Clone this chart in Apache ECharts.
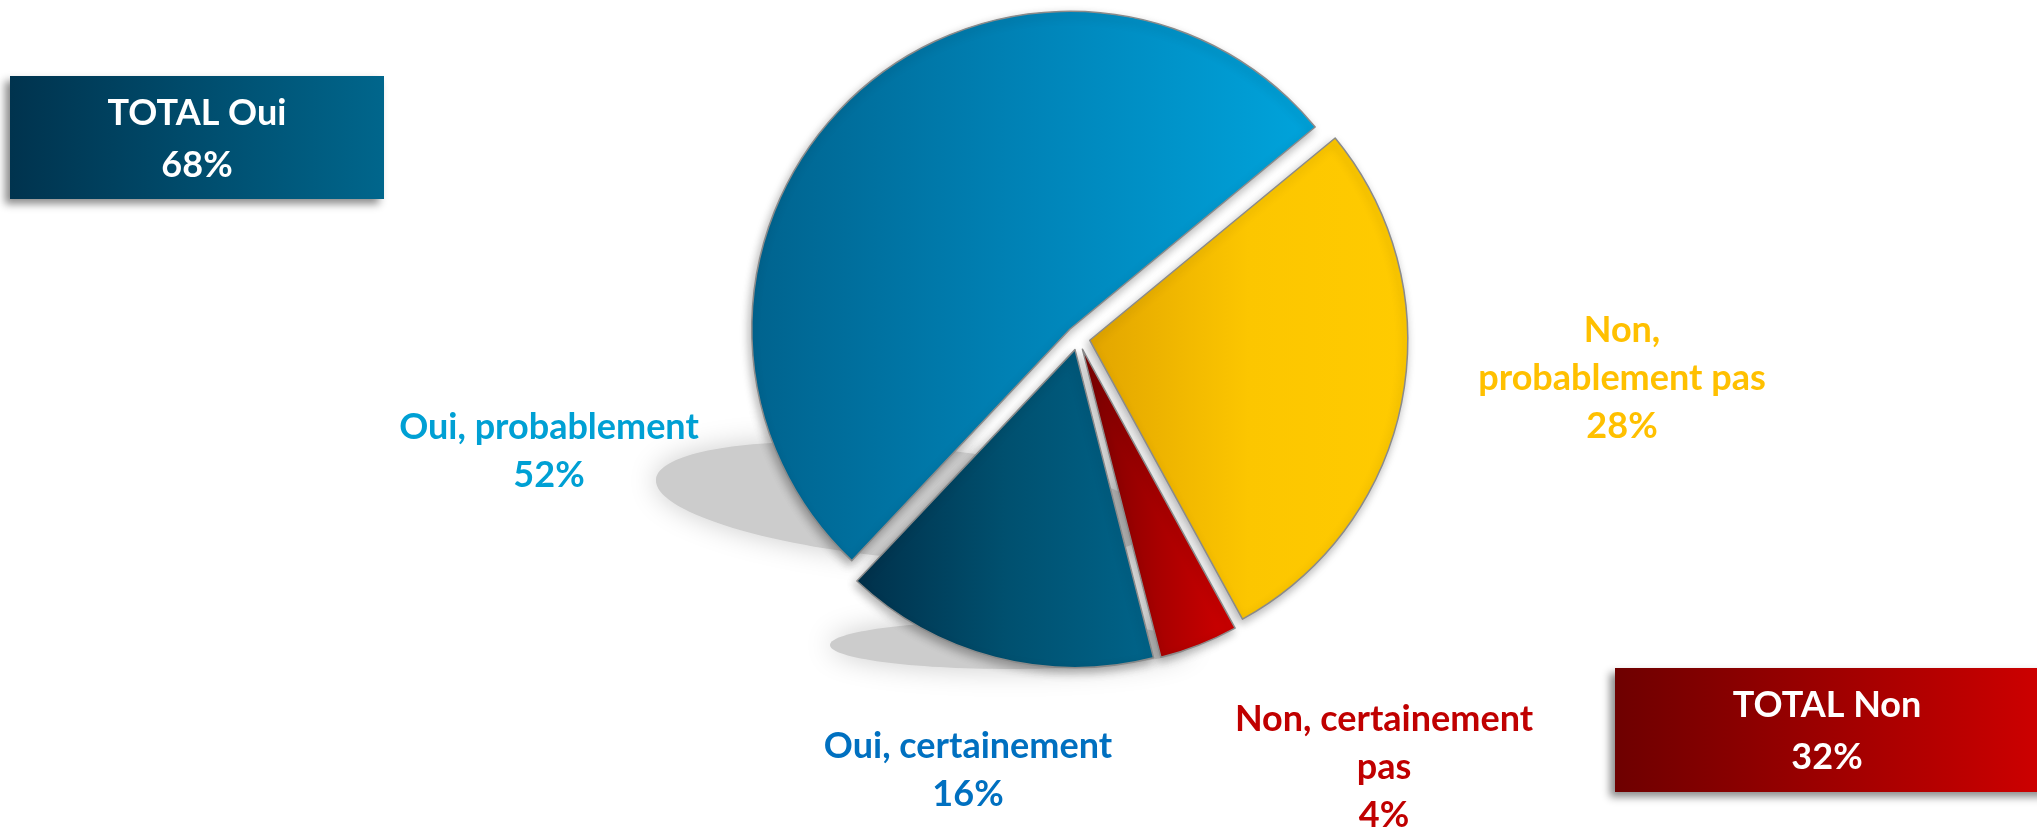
<!DOCTYPE html>
<html>
<head>
<meta charset="utf-8">
<script src="https://cdn.jsdelivr.net/npm/echarts@6/dist/echarts.min.js"></script>
<style>
html, body { margin: 0; padding: 0; background: #fff; }
#chart { width: 2037px; height: 833px; }
</style>
</head>
<body>
<div id="chart"></div>
<script>
// data, clockwise from the upper right
var categories = ["Non,\nprobablement pas", "Non, certainement\npas", "Oui, certainement", "Oui, probablement"];
var values = [28, 4, 16, 52];
var groups = ["Non", "Non", "Oui", "Oui"];

var sliceColors = [
  ["#e2a500", "#fcc600", "#ffcb00"],
  ["#7a0000", "#a80000", "#d00000"],
  ["#00304a", "#00506f", "#00648a"],
  ["#00638e", "#0084b8", "#00a4dc"]
];
var labelColors = ["#ffc000", "#c00000", "#0070c0", "#00a0d4"];
var labelPos = [[1622, 378], [1384, 767], [968, 770], [549, 451]];

function grad(c) {
  return {
    type: "linear", x: 0, y: 0, x2: 1, y2: 0,
    colorStops: [
      { offset: 0, color: c[0] },
      { offset: 0.5, color: c[1] },
      { offset: 1, color: c[2] }
    ]
  };
}

function total(g) {
  var s = 0;
  values.forEach(function(v, i) {
    if (groups[i] === g) s += v;
  });
  return s;
}

var font = "Lato";
var myChart = echarts.init(document.getElementById("chart"));

// slice labels as text
var labels = values.map(function(v, i) {
  return {
    type: "text",
    z: 10,
    style: {
      text: categories[i] + "\n" + v + "%",
      x: labelPos[i][0],
      y: labelPos[i][1],
      textAlign: "center",
      textVerticalAlign: "middle",
      fill: labelColors[i],
      fontSize: 36,
      fontWeight: "bold",
      fontFamily: font,
      lineHeight: 48
    }
  };
});

var shadowStyle = { fill: "#cccccc", shadowBlur: 28, shadowColor: "#cccccc" };

var option = {
  animation: false,
  graphic: [
    {
      // soft ground shadow, left lobe
      type: "ellipse",
      z: 0,
      shape: { cx: 905, cy: 502, rx: 250, ry: 56 },
      originX: 905,
      originY: 502,
      rotation: -0.09,
      style: shadowStyle
    },
    {
      // soft ground shadow, bottom lobe
      type: "ellipse",
      z: 0,
      shape: { cx: 1010, cy: 645, rx: 180, ry: 24 },
      style: shadowStyle
    },
    {
      type: "rect",
      shape: { x: 10, y: 76, width: 374, height: 123 },
      style: {
        fill: new echarts.graphic.LinearGradient(0, 0, 1, 0, [
          { offset: 0, color: "#00334e" },
          { offset: 1, color: "#00668c" }
        ]),
        shadowBlur: 8,
        shadowOffsetX: -5,
        shadowOffsetY: 5,
        shadowColor: "rgba(0,0,0,0.45)"
      }
    },
    {
      type: "text",
      style: {
        text: "TOTAL Oui\n" + total("Oui") + "%",
        x: 197, y: 139,
        textAlign: "center", textVerticalAlign: "middle",
        fill: "#fff", fontSize: 36, fontWeight: "bold", fontFamily: font, lineHeight: 52
      }
    },
    {
      type: "rect",
      shape: { x: 1615, y: 668, width: 440, height: 124 },
      style: {
        fill: new echarts.graphic.LinearGradient(0, 0, 1, 0, [
          { offset: 0, color: "#6e0000" },
          { offset: 1, color: "#d00000" }
        ]),
        shadowBlur: 8,
        shadowOffsetX: -5,
        shadowOffsetY: 5,
        shadowColor: "rgba(0,0,0,0.45)"
      }
    },
    {
      type: "text",
      style: {
        text: "TOTAL Non\n" + total("Non") + "%",
        x: 1827, y: 731,
        textAlign: "center", textVerticalAlign: "middle",
        fill: "#fff", fontSize: 36, fontWeight: "bold", fontFamily: font, lineHeight: 52
      }
    }
  ].concat(labels),
  series: [
    {
      type: "pie",
      z: 2,
      center: [1078, 338],
      radius: 318,
      startAngle: 39.5,
      clockwise: true,
      selectedMode: "multiple",
      selectedOffset: 12,
      emphasis: { scale: false },
      itemStyle: {
        borderColor: "#8a8a8a",
        borderWidth: 1.5,
        shadowBlur: 10,
        shadowOffsetX: -2,
        shadowOffsetY: 4,
        shadowColor: "rgba(0,0,0,0.3)"
      },
      select: {
        itemStyle: { borderColor: "#8a8a8a", borderWidth: 1.5 }
      },
      label: { show: false },
      labelLine: { show: false },
      data: values.map(function(v, i) {
        return {
          name: categories[i],
          value: v,
          selected: true,
          itemStyle: { color: grad(sliceColors[i]) }
        };
      })
    }
  ]
};

myChart.setOption(option);
window.addEventListener("resize", function() {
  myChart.resize();
});
</script>
</body>
</html>
